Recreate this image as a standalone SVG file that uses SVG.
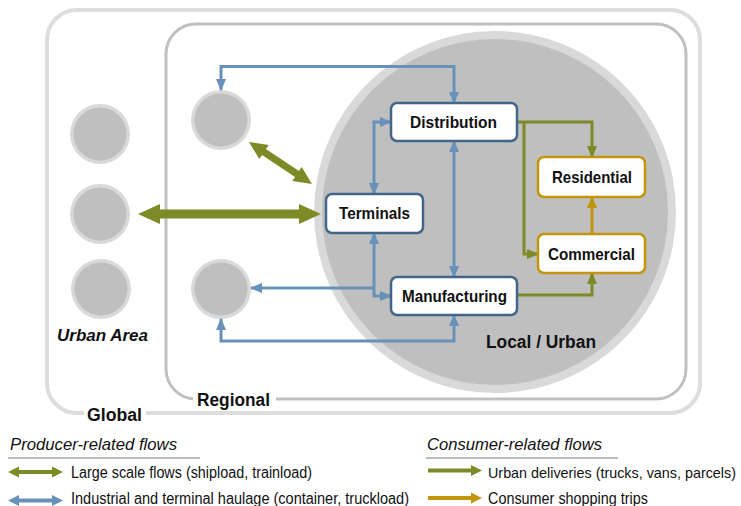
<svg xmlns="http://www.w3.org/2000/svg" width="741" height="506" viewBox="0 0 741 506">
  <style>
    .lbl { font-family: "Liberation Sans", Arial, sans-serif; fill: #111; }
    .node-text { font-size: 16.5px; font-weight: bold; }
    .scale-text { font-size: 18px; font-weight: bold; }
    .legend-title { font-size: 16.5px; font-style: italic; }
    .legend-text { font-size: 16px; }
    .node-prod rect { fill: #fff; stroke: #42658a; stroke-width: 2.5; }
    .node-cons rect { fill: #fff; stroke: #c2950c; stroke-width: 2.5; }
    .ring { fill: #d9d9d9; }
    .core { fill: #bfbfbf; }
    .blue { fill: none; stroke: #6791b8; stroke-width: 3; }
    .green { fill: none; stroke: #7d8a25; stroke-width: 3; }
    .gold { fill: none; stroke: #c2950c; stroke-width: 3; }
    .b-blue { marker-start: url(#hb); marker-end: url(#hb); }
    .e-blue { marker-end: url(#hb); }
    .e-green { marker-end: url(#hg); }
    .e-gold { marker-end: url(#hy); }
  </style>
  <defs>
    <marker id="hb" viewBox="0 0 12 10" refX="11" refY="5" markerWidth="12" markerHeight="10" markerUnits="userSpaceOnUse" orient="auto-start-reverse">
      <path d="M0,0 L12,5 L0,10 z" fill="#6791b8"/>
    </marker>
    <marker id="hg" viewBox="0 0 12 10" refX="11" refY="5" markerWidth="12" markerHeight="10" markerUnits="userSpaceOnUse" orient="auto-start-reverse">
      <path d="M0,0 L12,5 L0,10 z" fill="#7d8a25"/>
    </marker>
    <marker id="hy" viewBox="0 0 12 10" refX="11" refY="5" markerWidth="12" markerHeight="10" markerUnits="userSpaceOnUse" orient="auto-start-reverse">
      <path d="M0,0 L12,5 L0,10 z" fill="#c2950c"/>
    </marker>
  </defs>

  <rect width="741" height="506" fill="#fff"/>

  <!-- scale frames -->
  <g id="global-frame">
    <rect x="47" y="10" width="653" height="403" rx="30" fill="none" stroke="#dddddd" stroke-width="4"/>
    <rect x="84" y="404" width="62" height="20" fill="#fff"/>
    <text class="lbl scale-text" x="87" y="421" textLength="55" lengthAdjust="spacingAndGlyphs">Global</text>
  </g>
  <g id="regional-frame">
    <rect x="166" y="24" width="520" height="375" rx="30" fill="none" stroke="#c0c0c0" stroke-width="3"/>
    <rect x="193" y="390" width="83" height="20" fill="#fff"/>
    <text class="lbl scale-text" x="197" y="406" textLength="73" lengthAdjust="spacingAndGlyphs">Regional</text>
  </g>
  <g id="local-area">
    <circle class="ring" cx="495" cy="212" r="181"/>
    <circle class="core" cx="495" cy="212" r="173"/>
    <text class="lbl" x="486" y="348" font-size="18" font-weight="bold" textLength="110" lengthAdjust="spacingAndGlyphs">Local / Urban</text>
  </g>

  <!-- other urban areas -->
  <g id="urban-areas">
    <circle class="ring" cx="100" cy="134" r="30"/><circle class="core" cx="100" cy="134" r="26.5"/>
    <circle class="ring" cx="100" cy="214" r="30"/><circle class="core" cx="100" cy="214" r="26.5"/>
    <circle class="ring" cx="101" cy="289" r="30"/><circle class="core" cx="101" cy="289" r="26.5"/>
    <text class="lbl" x="57" y="341" font-size="17" font-weight="bold" font-style="italic" textLength="91" lengthAdjust="spacingAndGlyphs">Urban Area</text>
  </g>
  <g id="regional-areas">
    <circle class="ring" cx="221" cy="120" r="30"/><circle class="core" cx="221" cy="120" r="26.5"/>
    <circle class="ring" cx="221" cy="289" r="30"/><circle class="core" cx="221" cy="289" r="26.5"/>
  </g>

  <!-- flows -->
  <g id="connectors">
    <!-- large scale flows -->
    <polygon fill="#7d8a25" points="0,0 22,-10 22,-4.5 161,-4.5 161,-10 183,0 161,10 161,4.5 22,4.5 22,10" transform="translate(138,214)"/>
    <polygon fill="#7d8a25" points="0,0 18,-8.5 18,-3.5 57.7,-3.5 57.7,-8.5 75.7,0 57.7,8.5 57.7,3.5 18,3.5 18,8.5" transform="translate(249,142) rotate(33.7)"/>
    <!-- industrial and terminal haulage -->
    <path class="blue b-blue" d="M221,90 V66.5 H454 V103"/>
    <path class="blue b-blue" d="M374,194 V122 H391"/>
    <path class="blue b-blue" d="M454,141 V277"/>
    <path class="blue b-blue" d="M374,233 V296 H391"/>
    <path class="blue e-blue" d="M374,288 H251"/>
    <path class="blue b-blue" d="M221,319 V341 H454 V315"/>
    <!-- urban deliveries -->
    <path class="green e-green" d="M517,122 H592 V157"/>
    <path class="green e-green" d="M524,122 V254 H538"/>
    <path class="green e-green" d="M517,295 H592 V273"/>
    <!-- shopping trips -->
    <path class="gold e-gold" d="M592,234 V197"/>
  </g>

  <!-- activity nodes -->
  <g id="distribution" class="node-prod">
    <rect x="391" y="103" width="126" height="38" rx="6"/>
    <text class="lbl node-text" x="410" y="128" textLength="87" lengthAdjust="spacingAndGlyphs">Distribution</text>
  </g>
  <g id="terminals" class="node-prod">
    <rect x="326" y="194" width="97" height="39" rx="6"/>
    <text class="lbl node-text" x="339" y="219" textLength="71" lengthAdjust="spacingAndGlyphs">Terminals</text>
  </g>
  <g id="manufacturing" class="node-prod">
    <rect x="391" y="277" width="126" height="38" rx="6"/>
    <text class="lbl node-text" x="402" y="302" textLength="105" lengthAdjust="spacingAndGlyphs">Manufacturing</text>
  </g>
  <g id="residential" class="node-cons">
    <rect x="538" y="157" width="107" height="40" rx="6"/>
    <text class="lbl node-text" x="552" y="183" textLength="80" lengthAdjust="spacingAndGlyphs">Residential</text>
  </g>
  <g id="commercial" class="node-cons">
    <rect x="538" y="234" width="107" height="39" rx="6"/>
    <text class="lbl node-text" x="548" y="260" textLength="87" lengthAdjust="spacingAndGlyphs">Commercial</text>
  </g>

  <!-- legend -->
  <g id="legend">
    <text class="lbl legend-title" x="10" y="450" textLength="167" lengthAdjust="spacingAndGlyphs">Producer-related flows</text>
    <line x1="8" y1="458" x2="200" y2="458" stroke="#a6a6a6" stroke-width="1.5"/>
    <polygon fill="#7d8a25" points="8,472 19,466.5 19,470 52,470 52,466.5 63,472 52,477.5 52,474 19,474 19,477.5"/>
    <text class="lbl legend-text" x="71" y="478" textLength="241" lengthAdjust="spacingAndGlyphs">Large scale flows (shipload, trainload)</text>
    <polygon fill="#6791b8" points="8,500.5 19,495 19,498.5 52,498.5 52,495 63,500.5 52,506 52,502.5 19,502.5 19,506"/>
    <text class="lbl legend-text" x="71" y="504" textLength="338" lengthAdjust="spacingAndGlyphs">Industrial and terminal haulage (container, truckload)</text>

    <text class="lbl legend-title" x="427" y="450" textLength="175" lengthAdjust="spacingAndGlyphs">Consumer-related flows</text>
    <line x1="426" y1="458" x2="618" y2="458" stroke="#a6a6a6" stroke-width="1.5"/>
    <polygon fill="#7d8a25" points="428,468.5 471,468.5 471,465 482,470.5 471,476 471,472.5 428,472.5"/>
    <text class="lbl" x="488" y="478" font-size="14.5" textLength="248" lengthAdjust="spacingAndGlyphs">Urban deliveries (trucks, vans, parcels)</text>
    <polygon fill="#c2950c" points="428,496 471,496 471,492.5 482,498 471,503.5 471,500 428,500"/>
    <text class="lbl legend-text" x="488" y="504" textLength="160" lengthAdjust="spacingAndGlyphs">Consumer shopping trips</text>
  </g>
</svg>
